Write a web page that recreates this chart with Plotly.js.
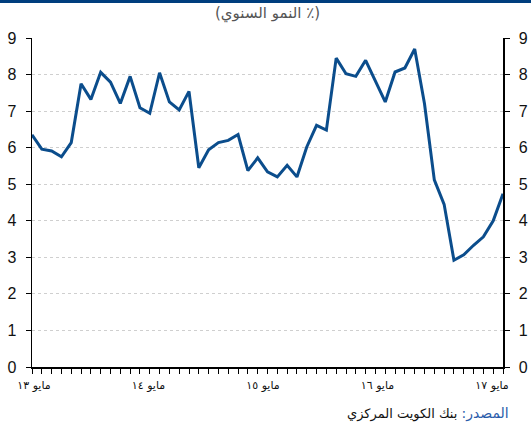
<!DOCTYPE html>
<html>
<head>
<meta charset="utf-8">
<script src="https://cdn.plot.ly/plotly-3.0.1.min.js"></script>
<style>html,body{margin:0;padding:0;background:#fff;}#chart{width:531px;height:430px;}</style>
</head>
<body>
<div id="chart"></div>
<script>
// Monthly index: 0 = May 2013 ... 48 = May 2017
const months = Array.from({length: 49}, (_, i) => i);
const growth = [
  6.35, 5.96, 5.91, 5.75, 6.14, 7.75, 7.32, 8.06, 7.79, 7.21, 7.95, 7.09, 6.94,
  8.05, 7.25, 7.03, 7.54, 5.45, 5.94, 6.14, 6.20, 6.36, 5.37, 5.72, 5.34,
  5.20, 5.52, 5.20, 6.02, 6.61, 6.48, 8.45, 8.02, 7.95, 8.39, 7.80, 7.25,
  8.07, 8.18, 8.70, 7.20, 5.12, 4.45, 2.92, 3.07, 3.33, 3.56, 4.00, 4.74
];
const tickMonths = [0, 12, 24, 36, 48];
const tickLabels = ['مايو ١٣', 'مايو ١٤', 'مايو ١٥', 'مايو ١٦', 'مايو ١٧'];
const yTicks = [0, 1, 2, 3, 4, 5, 6, 7, 8, 9];

const lineColor = '#0b4d8c';

const trace = {
  x: months, y: growth, type: 'scatter', mode: 'lines',
  line: {color: lineColor, width: 3}, hoverinfo: 'skip'
};
const traceY2 = {x: [null], y: [null], yaxis: 'y2', type: 'scatter', mode: 'lines', hoverinfo: 'skip'};
const traceX2 = {x: [null], y: [null], xaxis: 'x2', type: 'scatter', mode: 'lines', hoverinfo: 'skip'};

const yBase = {
  range: [0, 9], tickvals: yTicks, ticks: 'outside', ticklen: 5, tickcolor: '#000', tickwidth: 1,
  showline: true, linecolor: '#000', linewidth: 1.5, zeroline: false,
  tickfont: {family: 'Liberation Sans, Arial, sans-serif', size: 16, color: '#111'},
  fixedrange: true
};

const layout = {
  width: 531, height: 430,
  margin: {l: 32, r: 28, t: 38, b: 63},
  paper_bgcolor: '#fff', plot_bgcolor: '#fff',
  showlegend: false,
  xaxis: {
    range: [0, 48], tickmode: 'linear', tick0: 0, dtick: 1,
    ticks: 'outside', ticklen: 5, tickcolor: '#000', tickwidth: 1,
    showticklabels: false, showgrid: false, zeroline: false,
    showline: true, linecolor: '#000', linewidth: 1.5,
    fixedrange: true
  },
  xaxis2: {
    overlaying: 'x', anchor: 'y', side: 'bottom',
    range: [-0.21, 49.15], tickmode: 'array', tickvals: tickMonths, ticktext: tickLabels,
    ticks: '', showline: false, showgrid: false, zeroline: false,
    ticklabelstandoff: 10,
    tickfont: {family: 'DejaVu Sans, sans-serif', size: 11, color: '#111'},
    fixedrange: true
  },
  yaxis: Object.assign({}, yBase, {
    side: 'left', showgrid: true, gridcolor: '#cfcfcf', griddash: 'dot', gridwidth: 1,
    ticklabelstandoff: 6
  }),
  yaxis2: Object.assign({}, yBase, {
    side: 'right', overlaying: 'y', showgrid: false, ticklabelstandoff: 6
  }),
  shapes: [{
    type: 'rect', xref: 'paper', yref: 'paper',
    x0: -0.08, x1: 1.08, y0: 1.1064, y1: 1.125,
    fillcolor: '#003e7e', line: {width: 0}
  }],
  annotations: [
    {
      text: '(النمو السنوي ٪)', xref: 'paper', yref: 'paper',
      x: 0.5, y: 1.075, xanchor: 'center', yanchor: 'middle', showarrow: false,
      font: {family: 'DejaVu Sans, sans-serif', size: 15, color: '#555'}
    },
    {
      text: '<span style="color:#2a5caa;font-size:14px">المصدر:</span> بنك الكويت المركزي',
      xref: 'paper', yref: 'paper', x: 0.6645, y: -0.14, xanchor: 'left', yanchor: 'middle',
      showarrow: false,
      font: {family: 'DejaVu Sans, sans-serif', size: 13, color: '#111'}
    }
  ]
};

Plotly.newPlot('chart', [trace, traceY2, traceX2], layout, {staticPlot: true, displayModeBar: false});
</script>
</body>
</html>
